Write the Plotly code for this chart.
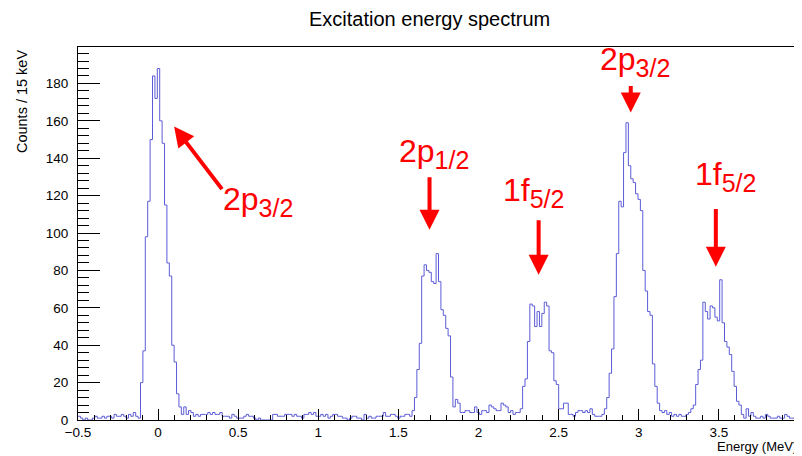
import numpy as np
import plotly.graph_objects as go

# ---------------- data (counts per 15 keV bin) ----------------
E_MIN, E_MAX = -0.5, 4.0
BIN_WIDTH = 0.015  # MeV (15 keV)

counts_bg_neg = [2, 1, 0, 1, 0, 0, 1, 2, 1, 1, 2, 1, 2, 2, 1, 3, 2, 2, 3, 2, 1, 3, 2, 4, 2]
counts_peak_gs = [1, 20, 37, 98, 117, 150, 184, 172, 188, 160, 148, 115, 84, 77, 40, 31, 14, 7, 3, 7]
counts_tail_gs = [3, 5, 4, 2, 3, 2]
counts_bg_mid = [3, 3, 3, 4, 3, 4, 3, 3, 4, 2, 2, 2, 1, 3, 2, 1, 1, 1, 2, 3,
                 2, 2, 1, 0, 1, 0, 0, 0, 0, 0, 3, 3, 2, 2, 2, 3, 3, 3, 2, 3,
                 2, 2, 1, 3, 3, 4, 3, 4, 2, 2, 3, 2, 3, 1, 2, 3, 3, 2, 2, 1,
                 1, 0, 1, 2, 2, 1, 1, 0, 3, 1, 2, 1, 1, 2, 2, 2, 4, 2, 2, 3,
                 3, 2, 1, 2, 2, 3, 3, 2, 5]
counts_peak_p12 = [12, 27, 41, 77, 83, 80, 79, 74, 73, 89, 74, 59, 56, 49, 45, 23, 7, 11, 9, 4]
counts_bg_2 = [4, 5, 5, 4, 4, 7, 4, 3, 5, 5, 4, 8, 7, 6, 5, 5, 9, 8, 7, 4,
               5, 3, 4, 4, 6]
counts_peak_f52a = [18, 22, 42, 62, 61, 50, 58, 50, 57, 63, 61, 37, 36, 21, 19]
counts_bg_3 = [6, 6, 9, 9, 3, 3, 2, 4, 5, 5, 4, 5, 4, 6, 3, 2, 2]
counts_peak_p32 = [2, 3, 6, 12, 25, 38, 66, 89, 117, 114, 143, 159, 136, 129, 127, 121,
                   118, 112, 80, 69, 58, 56, 30, 18, 9, 5, 4, 5]
counts_bg_4 = [3, 4, 2, 3, 2, 3, 2, 2, 3, 4, 6]
counts_peak_f52b = [8, 19, 27, 32, 63, 58, 54, 61, 60, 55, 53, 75, 52, 42, 39, 35,
                    26, 18, 10, 8, 3, 1, 6, 2]
counts_bg_high = [4, 2, 1, 1, 2, 1, 3, 2, 1, 1, 1, 2, 1, 1, 3, 2, 1, 1, 1, 6]

counts = (counts_bg_neg + counts_peak_gs + counts_tail_gs + counts_bg_mid + counts_peak_p12
          + counts_bg_2 + counts_peak_f52a + counts_bg_3 + counts_peak_p32 + counts_bg_4
          + counts_peak_f52b + counts_bg_high)
assert len(counts) == round((E_MAX - E_MIN) / BIN_WIDTH)

edges = E_MIN + BIN_WIDTH * np.arange(len(counts) + 1)
y_steps = counts + [counts[-1]]

# peak labels: (orbital, j, text x, text y, arrow head x, head y, arrow tail x, tail y)
peak_labels = [
    ("2p", "3/2", 0.394, 116.8, 0.10, 157.0, 0.406, 122.7),
    ("2p", "1/2", 1.494, 142.5, 1.694, 101.8, 1.694, 130.7),
    ("1f", "5/2", 2.137, 121.6, 2.375, 77.7, 2.375, 107.7),
    ("2p", "3/2", 2.744, 191.8, 2.950, 164.5, 2.950, 179.5),
    ("1f", "5/2", 3.337, 130.2, 3.481, 82.0, 3.481, 113.6),
]

FONT = "Liberation Sans, Arial, Helvetica, sans-serif"

fig = go.Figure()
fig.add_trace(go.Scatter(
    x=edges, y=y_steps, mode="lines",
    line=dict(shape="hv", color="#5c5cd8", width=1),
    hoverinfo="skip", showlegend=False,
))

annotations = []
for orb, j, tx, ty, hx, hy, ax, ay in peak_labels:
    annotations.append(dict(
        x=hx, y=hy, xref="x", yref="y", ax=ax, ay=ay, axref="x", ayref="y",
        showarrow=True, arrowhead=2, arrowsize=1, arrowwidth=4, arrowcolor="#ff0000",
        text="",
    ))
    annotations.append(dict(
        x=tx, y=ty, xref="x", yref="y",
        text=f"{orb}<sub><span style='font-size:25px'>{j}</span></sub>",
        showarrow=False, xanchor="left", yanchor="middle",
        font=dict(family=FONT, size=32, color="#ff0000"),
    ))

annotations += [
    dict(text="Excitation energy spectrum", xref="paper", yref="paper",
         x=0.488, y=1.075, xanchor="center", yanchor="middle", showarrow=False,
         font=dict(family=FONT, size=20, color="black")),
    dict(text="Energy (MeV)", xref="paper", yref="paper",
         x=1.0, y=-0.072, xanchor="right", yanchor="middle", showarrow=False,
         font=dict(family=FONT, size=13, color="black")),
    dict(text="Counts / 15 keV", xref="paper", yref="paper", textangle=-90,
         x=-0.0777, y=0.855, xanchor="center", yanchor="middle", showarrow=False,
         font=dict(family=FONT, size=14.5, color="black")),
]

# the page adds an 8 px body margin, so the figure is 8 px smaller and margins are shifted
fig.update_layout(
    width=794, height=448,
    margin=dict(l=70, r=3, t=39, b=36),
    paper_bgcolor="white", plot_bgcolor="white",
    font=dict(family=FONT, size=13.5, color="black"),
    annotations=annotations,
    showlegend=False,
)
fig.update_xaxes(
    range=[E_MIN, E_MAX], tick0=E_MIN, dtick=0.5,
    ticks="inside", ticklen=11, tickcolor="black", tickwidth=1,
    showline=True, linecolor="black", linewidth=1, mirror=True,
    showgrid=False, zeroline=False, automargin=False,
    ticklabelstandoff=0, ticklabeloverflow="allow",
    minor=dict(ticks="inside", ticklen=5.5, dtick=0.1, tick0=E_MIN, tickcolor="black", showgrid=False),
)
fig.update_yaxes(
    range=[0, 199.5], tick0=0, dtick=20,
    ticks="inside", ticklen=21.6, tickcolor="black", tickwidth=1,
    showline=True, linecolor="black", linewidth=1, mirror=True,
    showgrid=False, zeroline=False, automargin=False,
    ticklabelstandoff=6,
    minor=dict(ticks="inside", ticklen=10.8, dtick=4, tick0=0, tickcolor="black", showgrid=False),
)

fig.write_html("out.html")
